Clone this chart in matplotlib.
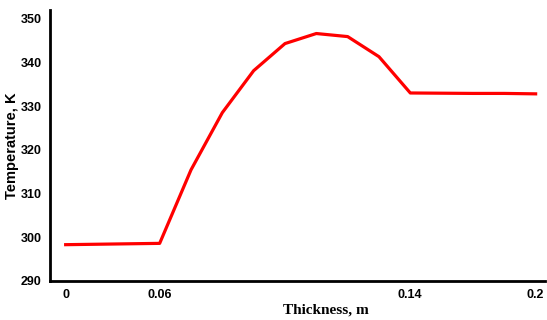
import matplotlib.pyplot as plt

# points are evenly spaced along x, only some carry labels
temperature = [298.3, 298.4, 298.5, 298.6, 315.4, 328.5, 338.1, 344.3,
               346.6, 345.9, 341.3, 333.0, 332.95, 332.9, 332.9, 332.8]
tick_pos = [0, 3, 11, 15]
tick_labels = ['0', '0.06', '0.14', '0.2']
yticks = [290, 300, 310, 320, 330, 340, 350]

fig = plt.figure(figsize=(5.47, 3.2), dpi=100)
ax = fig.add_axes([0.0914, 0.122, 0.905, 0.847])

ax.plot(range(len(temperature)), temperature, color='#ff0000', lw=2.3)

ax.set_xlim(-0.5, 15.3)
ax.set_ylim(290, 352)
ax.set_xticks(tick_pos)
ax.set_xticklabels(tick_labels)
ax.set_yticks(yticks)

for s in ['top', 'right']:
    ax.spines[s].set_visible(False)
for s in ['left', 'bottom']:
    ax.spines[s].set_linewidth(2)

ax.tick_params(length=0, pad=6)
for lab in ax.get_xticklabels() + ax.get_yticklabels():
    lab.set_fontfamily('Liberation Sans')
    lab.set_fontweight('bold')
    lab.set_fontsize(9)

ax.set_ylabel('Temperature, K', fontfamily='Liberation Sans', fontweight='bold', fontsize=10.5)
ax.yaxis.set_label_coords(-0.062, 0.5)
ax.set_xlabel('Thickness, m', fontfamily='Liberation Serif', fontweight='bold', fontsize=11)
ax.xaxis.set_label_coords(0.558, -0.085)

fig.savefig('out.png', dpi=100)
